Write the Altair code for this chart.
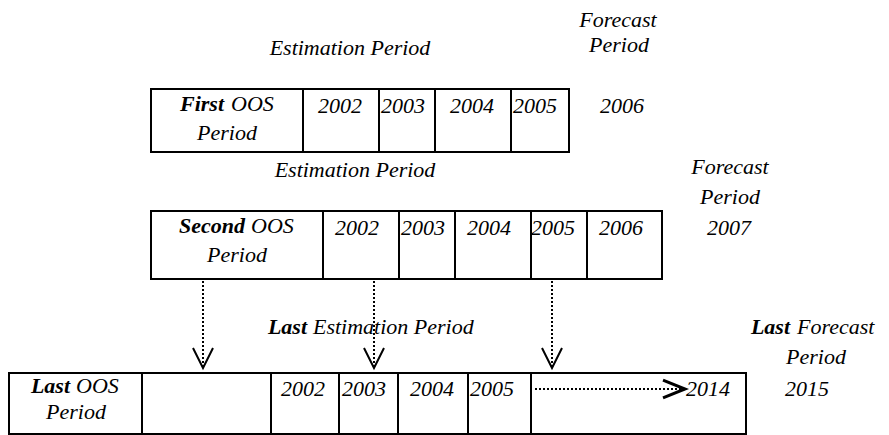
import altair as alt
import pandas as pd

# ---- geometry (page pixel coordinates) ----
box_row = ["first", "second", "last"]
box_x1 = [151, 151, 9]
box_x2 = [569, 662, 746]
box_y1 = [89, 211, 373]
box_y2 = [152, 279, 434]

div_row = ["first"] * 4 + ["second"] * 5 + ["last"] * 6
div_x = [303, 379, 435, 511,
         323, 399, 455, 531, 587,
         142, 271, 339, 398, 468, 531]

arrow_x = [203, 374, 552]
arrow_y_start = [281, 281, 281]
arrow_y_end = [366, 366, 366]
head_y = [358, 358, 358]

harrow_y = [389]
harrow_x_start = [535]
harrow_x_end = [683]
harrow_head_x = [674]

# centred italic labels
c_text = ["Estimation Period", "Forecast", "Period",
          "Period", "2002", "2003", "2004", "2005", "2006",
          "Estimation Period", "Forecast", "Period", "2007",
          "Period", "2002", "2003", "2004", "2005", "2006",
          "Period", "2002", "2003", "2004", "2005", "2014",
          "Period", "2015"]
c_x = [350, 618, 619,
       227, 340, 403, 472, 535, 622,
       355, 730, 730, 729,
       237, 357, 423, 489, 553, 621,
       76, 303, 364, 432, 492, 708,
       816, 807]
c_y = [48, 20, 45,
       133, 106, 106, 106, 106, 106,
       170, 167, 197, 228,
       255, 228, 228, 228, 228, 228,
       412, 389, 389, 389, 389, 389,
       357, 389]

# mixed labels: bold part (right aligned) + regular part (left aligned)
b_text = ["First", "Second", "Last", "Last", "Last"]
b_x = [224, 245, 70, 307, 790]
n_text = ["OOS", "OOS", "OOS", "Estimation Period", "Forecast"]
n_x = [231, 251, 76, 313, 797]
m_y = [104, 226, 386, 327, 327]

# ---- scales mapping values straight to page pixels ----
W, H = 873, 427
xs = alt.Scale(domain=[8, 8 + W], nice=False, zero=False)
ys = alt.Scale(domain=[8, 8 + H], nice=False, zero=False, reverse=True)


def X(f="x"):
    return alt.X(f"{f}:Q", scale=xs, axis=None)


def Y(f="y"):
    return alt.Y(f"{f}:Q", scale=ys, axis=None)


boxes = pd.DataFrame({"row": box_row, "x": box_x1, "x2": box_x2, "y": box_y1, "y2": box_y2})
tops = {r: (a, b) for r, a, b in zip(box_row, box_y1, box_y2)}
divs = pd.DataFrame({"x": div_x,
                     "y": [tops[r][0] for r in div_row],
                     "y2": [tops[r][1] for r in div_row]})
varrows = pd.DataFrame({"x": arrow_x, "y": arrow_y_start, "y2": arrow_y_end})
vheads = pd.DataFrame({"x": arrow_x, "y": head_y})
harrows = pd.DataFrame({"x": harrow_x_start, "x2": harrow_x_end, "y": harrow_y})
hheads = pd.DataFrame({"x": harrow_head_x, "y": harrow_y})
ctext = pd.DataFrame({"t": c_text, "x": c_x, "y": c_y})
btext = pd.DataFrame({"t": b_text, "x": b_x, "y": m_y})
ntext = pd.DataFrame({"t": n_text, "x": n_x, "y": m_y})

FONT = "Liberation Serif"
FS = 22

rects = alt.Chart(boxes).mark_rect(fill="white", stroke="black", strokeWidth=2).encode(
    x=X(), x2="x2", y=Y(), y2="y2")
dividers = alt.Chart(divs).mark_rule(color="black", strokeWidth=2).encode(
    x=X(), y=Y(), y2="y2")
vlines = alt.Chart(varrows).mark_rule(color="black", strokeWidth=2, strokeDash=[2, 2]).encode(
    x=X(), y=Y(), y2="y2")
vhead = alt.Chart(vheads).mark_point(
    shape="M-1,-1L0,1L1,-1", filled=False, stroke="black", strokeWidth=2, size=400, opacity=1
).encode(x=X(), y=Y())
hline = alt.Chart(harrows).mark_rule(color="black", strokeWidth=2, strokeDash=[2, 2]).encode(
    x=X(), x2="x2", y=Y())
hhead = alt.Chart(hheads).mark_point(
    shape="M-1,-0.8L1,0L-1,0.8", filled=False, stroke="black", strokeWidth=3, size=484, opacity=1
).encode(x=X(), y=Y())

ctexts = alt.Chart(ctext).mark_text(
    font=FONT, fontSize=FS, fontStyle="italic", align="center"
).encode(x=X(), y=Y(), text="t:N")
btexts = alt.Chart(btext).mark_text(
    font=FONT, fontSize=FS, fontStyle="italic", fontWeight="bold", align="right"
).encode(x=X(), y=Y(), text="t:N")
ntexts = alt.Chart(ntext).mark_text(
    font=FONT, fontSize=FS, fontStyle="italic", align="left"
).encode(x=X(), y=Y(), text="t:N")

chart = alt.layer(
    rects, dividers, vlines, vhead, hline, hhead, ctexts, btexts, ntexts
).properties(
    width=W, height=H, padding=0, autosize="none",
    view=alt.ViewBackground(stroke=None)
)

chart.save("out.html", embed_options={"renderer": "svg", "actions": False})
